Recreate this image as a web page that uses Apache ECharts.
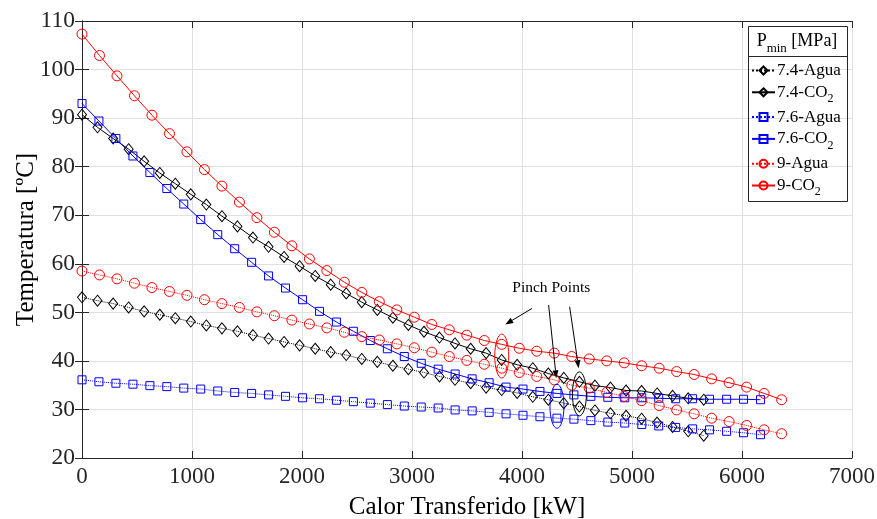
<!DOCTYPE html>
<html><head><meta charset="utf-8">
<script src="https://cdn.jsdelivr.net/npm/echarts@6/dist/echarts.min.js"></script>
<style>html,body{margin:0;padding:0;background:#fff}#c{width:877px;height:519px}</style>
</head><body><div id="c"></div>
<script>
// Heat transferred [kW] for each minimum pressure
const q74 = [0,141,283,424,565,707,848,989,1130,1272,1413,1554,1696,1837,1978,2120,2261,2402,2543,2685,2826,2967,3109,3250,3391,3533,3674,3815,3956,4098,4239,4380,4522,4663,4804,4946,5087,5228,5369,5511,5652];
const q76 = [0,154,308,463,617,771,925,1079,1234,1388,1542,1696,1850,2005,2159,2313,2467,2621,2776,2930,3084,3238,3392,3547,3701,3855,4009,4163,4318,4472,4626,4780,4934,5089,5243,5397,5551,5705,5860,6014,6168];
const q90 = [0,159,318,477,636,795,954,1113,1272,1431,1590,1749,1908,2067,2226,2385,2544,2703,2862,3021,3180,3339,3498,3657,3816,3975,4134,4293,4452,4611,4770,4929,5088,5247,5406,5565,5724,5883,6042,6201,6360];
// Temperatures [ºC]
const t74Agua = [53.1,52.4,51.8,51.0,50.2,49.5,48.8,48.1,47.3,46.7,46.1,45.3,44.6,43.9,43.2,42.5,41.8,41.2,40.4,39.8,39.0,38.3,37.6,36.8,36.1,35.4,34.5,34.0,33.4,32.6,32.0,31.3,30.6,29.8,29.2,28.7,28.1,27.3,26.4,25.5,24.6];
const t74CO2 = [90.7,88.1,85.8,83.6,81.1,78.7,76.5,74.3,72.2,69.8,67.7,65.4,63.5,61.4,59.5,57.5,55.7,53.9,52.1,50.5,48.9,47.4,46.0,44.8,43.6,42.5,41.6,40.2,39.2,38.5,37.4,36.5,35.7,34.9,34.5,33.9,33.8,33.3,32.8,32.3,32.0];
const t76Agua = [36.1,35.7,35.4,35.2,34.9,34.7,34.4,34.2,33.8,33.5,33.3,33.0,32.7,32.4,32.2,31.9,31.6,31.3,31.0,30.7,30.5,30.3,29.9,29.7,29.4,29.1,28.8,28.5,28.2,28.0,27.7,27.4,27.2,26.9,26.6,26.3,26.0,25.8,25.5,25.2,24.8];
const t76CO2 = [93.0,89.4,85.8,82.2,78.8,75.5,72.3,69.1,66.0,63.1,60.3,57.5,55.0,52.6,50.2,48.0,46.1,44.2,42.5,40.9,39.5,38.3,37.3,36.3,35.5,34.6,34.2,33.7,33.3,33.0,32.7,32.5,32.4,32.4,32.3,32.2,32.2,32.1,32.1,32.1,32.0];
const t90Agua = [58.5,57.7,56.9,56.0,55.1,54.3,53.5,52.6,51.8,51.0,50.1,49.3,48.4,47.6,46.8,45.9,45.0,44.3,43.5,42.7,41.8,40.9,40.1,39.3,38.5,37.6,36.8,36.1,35.0,34.4,33.5,32.7,31.8,30.8,29.9,29.1,28.2,27.5,26.7,25.8,25.0];
const t90CO2 = [107.3,102.9,98.7,94.6,90.6,86.8,83.05,79.4,76.0,72.7,69.5,66.5,63.7,61.0,58.6,56.2,54.1,52.2,50.5,49.0,47.5,46.4,45.3,44.2,43.4,42.6,42.0,41.6,40.9,40.4,40.0,39.6,39.0,38.5,37.8,37.2,36.3,35.5,34.6,33.3,32.0];
const seriesNames = ['7.4-Agua','7.4-CO2','7.6-Agua','7.6-CO2','9-Agua','9-CO2'];
const xTicks = [0,1000,2000,3000,4000,5000,6000,7000];
const yTicks = [20,30,40,50,60,70,80,90,100,110];
// Pinch point annotations (data coordinates)
const pinchText = {q: 4266, t: 55.0, label: 'Pinch Points'};
const pinchArrows = [[4091,50.8,3848,47.5],[4242,51.5,4312,36.4],[4433,51.15,4515,38.5]];
const pinchEllipses = [{q: 3816, t: 41.0, color: '#ff0000'},{q: 4318, t: 30.65, color: '#0000ff'},{q: 4522, t: 33.2, color: '#000000'}];

const FONT = 'Liberation Serif';
const chart = echarts.init(document.getElementById('c'), null, {renderer: 'canvas'});
function pairs(xs, ys){ return xs.map((x,i)=>[x, ys[i]]); }
function mk(name, xs, ys, color, symbol, size, dotted){
  return {
    name, type: 'line', data: pairs(xs, ys), xAxisIndex: 0, yAxisIndex: 0,
    symbol, symbolSize: size, showSymbol: true,
    lineStyle: {color, width: 1, type: dotted ? 'dotted' : 'solid'},
    itemStyle: {color: 'rgba(255,255,255,0)', borderColor: color, borderWidth: 1},
    emphasis: {disabled: true}, animation: false, z: 3
  };
}
const axisCommon = {
  axisLine: {show: true, lineStyle: {color: '#262626', width: 1}},
  axisTick: {show: true, inside: true, length: 7, lineStyle: {color: '#262626'}},
};
const option = {
  animation: false,
  backgroundColor: '#ffffff',
  grid: {left: 82, right: 25, top: 21, bottom: 61, show: false, containLabel: false, outerBoundsMode: 'none'},
  xAxis: [
    Object.assign({type: 'value', min: xTicks[0], max: xTicks[xTicks.length-1], interval: 1000, position: 'bottom',
      name: 'Calor Transferido [kW]', nameLocation: 'middle', nameGap: 37, nameMoveOverlap: false,
      nameTextStyle: {fontFamily: FONT, fontSize: 25, color: '#000'},
      axisLabel: {fontFamily: FONT, fontSize: 23, color: '#262626', margin: 7, formatter: v => String(v)},
      splitLine: {show: true, lineStyle: {color: '#e0e0e0', width: 1}}}, axisCommon),
    Object.assign({type: 'value', min: xTicks[0], max: xTicks[xTicks.length-1], interval: 1000, position: 'top',
      axisLabel: {show: false}, splitLine: {show: false}}, axisCommon)
  ],
  yAxis: [
    Object.assign({type: 'value', min: yTicks[0], max: yTicks[yTicks.length-1], interval: 10, position: 'left',
      name: 'Temperatura [ºC]', nameLocation: 'middle', nameGap: 43, nameMoveOverlap: false,
      nameTextStyle: {fontFamily: FONT, fontSize: 25, color: '#000'},
      axisLabel: {fontFamily: FONT, fontSize: 23.5, color: '#262626', margin: 7, formatter: v => String(v)},
      splitLine: {show: true, lineStyle: {color: '#e0e0e0', width: 1}}}, axisCommon),
    Object.assign({type: 'value', min: yTicks[0], max: yTicks[yTicks.length-1], interval: 10, position: 'right',
      axisLabel: {show: false}, splitLine: {show: false}}, axisCommon)
  ],
  legend: {
    orient: 'vertical', left: 751, top: 61, itemGap: 2.8, itemWidth: 23, itemHeight: 10,
    data: seriesNames,
    formatter: n => n.replace('CO2', 'CO{s|2}'),
    textStyle: {fontFamily: FONT, fontSize: 17, color: '#000', lineHeight: 19, padding: [0,0,0,-3],
      rich: {s: {fontFamily: FONT, fontSize: 12, lineHeight: 12, verticalAlign: 'bottom', color: '#000', padding: [0,0,-3,0]}}},
    padding: 0, itemStyle: {color: 'rgba(255,255,255,0)'}
  },
  series: [
    mk(seriesNames[0], q74, t74Agua, '#000000', 'diamond', [9,11], true),
    mk(seriesNames[1], q74, t74CO2, '#000000', 'diamond', [9,11], false),
    mk(seriesNames[2], q76, t76Agua, '#0000ff', 'rect', 8, true),
    mk(seriesNames[3], q76, t76CO2, '#0000ff', 'rect', 8, false),
    mk(seriesNames[4], q90, t90Agua, '#ff0000', 'circle', 10, true),
    mk(seriesNames[5], q90, t90CO2, '#ff0000', 'circle', 10, false)
  ]
};
chart.setOption(option);

function px(q, t){ return chart.convertToPixel({xAxisIndex: 0, yAxisIndex: 0}, [q, t]); }
const gfx = [];
// legend box
gfx.push({type: 'rect', shape: {x: 748.5, y: 26.5, width: 99, height: 175}, style: {fill: 'rgba(255,255,255,0)', stroke: '#262626', lineWidth: 1}, z: 10, silent: true});
gfx.push({type: 'line', shape: {x1: 748.5, y1: 56.5, x2: 847.5, y2: 56.5}, style: {stroke: '#262626', lineWidth: 1}, z: 10, silent: true});
gfx.push({type: 'text', x: 797, y: 41, z: 10, silent: true, style: {text: 'P{s|min} [MPa]', fontFamily: FONT, fontSize: 18, fill: '#000', align: 'center', verticalAlign: 'middle', lineHeight: 22,
  rich: {s: {fontFamily: FONT, fontSize: 13, lineHeight: 13, verticalAlign: 'bottom', fill: '#000', padding: [0,0,-3,0]}}}});
// pinch text
const tp = px(pinchText.q, pinchText.t);
gfx.push({type: 'text', x: tp[0], y: tp[1], z: 10, silent: true, style: {text: pinchText.label, fontFamily: FONT, fontSize: 15.5, fill: '#000', align: 'center', verticalAlign: 'middle'}});
// arrows
pinchArrows.forEach(a => {
  const s = px(a[0], a[1]), e = px(a[2], a[3]);
  const dx = e[0]-s[0], dy = e[1]-s[1], L = Math.hypot(dx, dy), ux = dx/L, uy = dy/L;
  const hl = 8, hw = 3;
  const bx = e[0]-ux*hl, by = e[1]-uy*hl;
  gfx.push({type: 'line', shape: {x1: s[0], y1: s[1], x2: bx, y2: by}, style: {stroke: '#000', lineWidth: 1}, z: 10, silent: true});
  gfx.push({type: 'polygon', shape: {points: [[e[0], e[1]], [bx - uy*hw, by + ux*hw], [bx + uy*hw, by - ux*hw]]}, style: {fill: '#000'}, z: 10, silent: true});
});
// ellipses
pinchEllipses.forEach(el => {
  const c = px(el.q, el.t);
  gfx.push({type: 'ellipse', shape: {cx: c[0], cy: c[1], rx: 7, ry: 22}, style: {fill: 'rgba(0,0,0,0)', stroke: el.color, lineWidth: 1}, z: 10, silent: true});
});
chart.setOption({graphic: gfx});
</script></body></html>
